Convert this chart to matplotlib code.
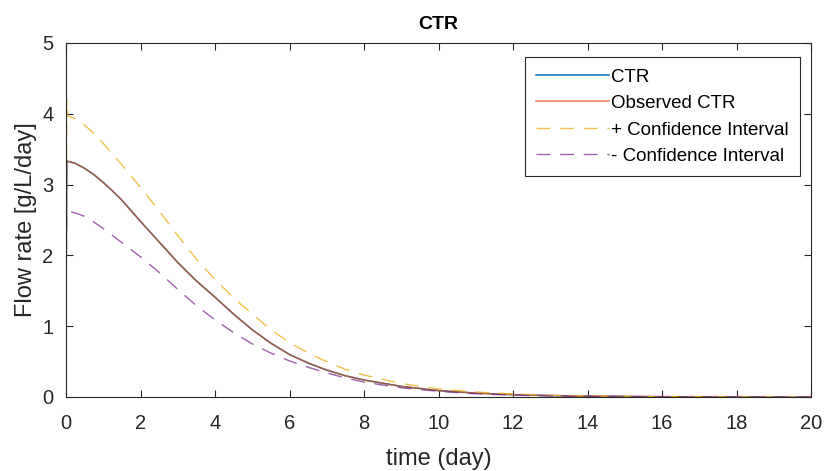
import matplotlib
matplotlib.use("Agg")
import matplotlib.pyplot as plt

plt.rcParams['font.family'] = ['Liberation Sans', 'DejaVu Sans']

# tiempo (días) y curvas
t = [0, 0.02, 0.04, 0.25, 0.5, 0.75, 1, 1.25, 1.5, 1.75, 2, 2.5, 3, 3.5, 4, 4.5, 5, 5.5, 6, 6.5,
     7, 7.5, 8, 9, 10, 11, 12, 13, 14, 16, 18, 20]
ctr = [1.35, 3.33, 3.33, 3.30, 3.23, 3.14, 3.03, 2.91, 2.78, 2.63, 2.48, 2.19, 1.90, 1.64, 1.41, 1.17,
       0.95, 0.76, 0.60, 0.48, 0.38, 0.30, 0.24, 0.15, 0.09, 0.055, 0.033, 0.02, 0.012, 0.004, 0.001, 0.0]
ctr_obs = ctr
ci_up = [1.35, 4.2, 3.97, 3.93, 3.84, 3.72, 3.58, 3.43, 3.28, 3.12, 2.96, 2.63, 2.28, 1.95, 1.66, 1.40,
         1.17, 0.95, 0.77, 0.62, 0.50, 0.39, 0.31, 0.19, 0.115, 0.07, 0.042, 0.025, 0.015, 0.005, 0.002, 0.0]
ci_low = [1.35, 2.62, 2.62, 2.60, 2.55, 2.47, 2.38, 2.28, 2.18, 2.08, 1.98, 1.76, 1.52, 1.29, 1.09, 0.91,
          0.75, 0.62, 0.51, 0.42, 0.34, 0.27, 0.21, 0.13, 0.08, 0.045, 0.025, 0.015, 0.008, 0.003, 0.001, 0.0]

fig = plt.figure(figsize=(8.31, 4.71), dpi=100)
ax = fig.add_axes([66 / 831, 1 - 397 / 471, 745 / 831, 354 / 471])

ax.plot(t, ctr, color='#0072BD', lw=1.1, label='CTR')
ax.plot(t, ctr_obs, color='#D95319', lw=1.1, alpha=0.75, label='Observed CTR')
ax.plot(t, ci_up, color='#EDB120', lw=1.0, ls=(0, (10, 7)), alpha=0.8, label='+ Confidence Interval')
ax.plot(t, ci_low, color='#7E2F8E', lw=1.0, ls=(0, (10, 7)), alpha=0.75, label='- Confidence Interval')

ax.set_xlim(0, 20)
ax.set_ylim(0, 5)
ax.set_xticks(range(0, 21, 2))
ax.set_yticks(range(0, 6))
ax.tick_params(axis='x', pad=12)
ax.tick_params(axis='y', pad=9)
ax.tick_params(direction='in', top=True, right=True, length=5, labelsize=14.5, colors='#262626')
for s in ax.spines.values():
    s.set_color('#262626')
    s.set_linewidth(0.8)

ax.set_xlabel('time (day)', fontsize=17, color='#262626', labelpad=11)
ax.set_ylabel('Flow rate [g/L/day]', fontsize=17, color='#262626', labelpad=4)
ax.set_title('CTR', fontsize=14, fontweight='bold', pad=10)

leg = ax.legend(loc='upper right', bbox_to_anchor=(0.985, 0.96), fontsize=13.5, handlelength=3.9,
                handletextpad=0.1, labelspacing=0.5, borderpad=0.6, fancybox=False,
                framealpha=1, edgecolor='#262626', borderaxespad=0)
leg.get_frame().set_linewidth(0.8)

fig.savefig('out.png', dpi=100)
